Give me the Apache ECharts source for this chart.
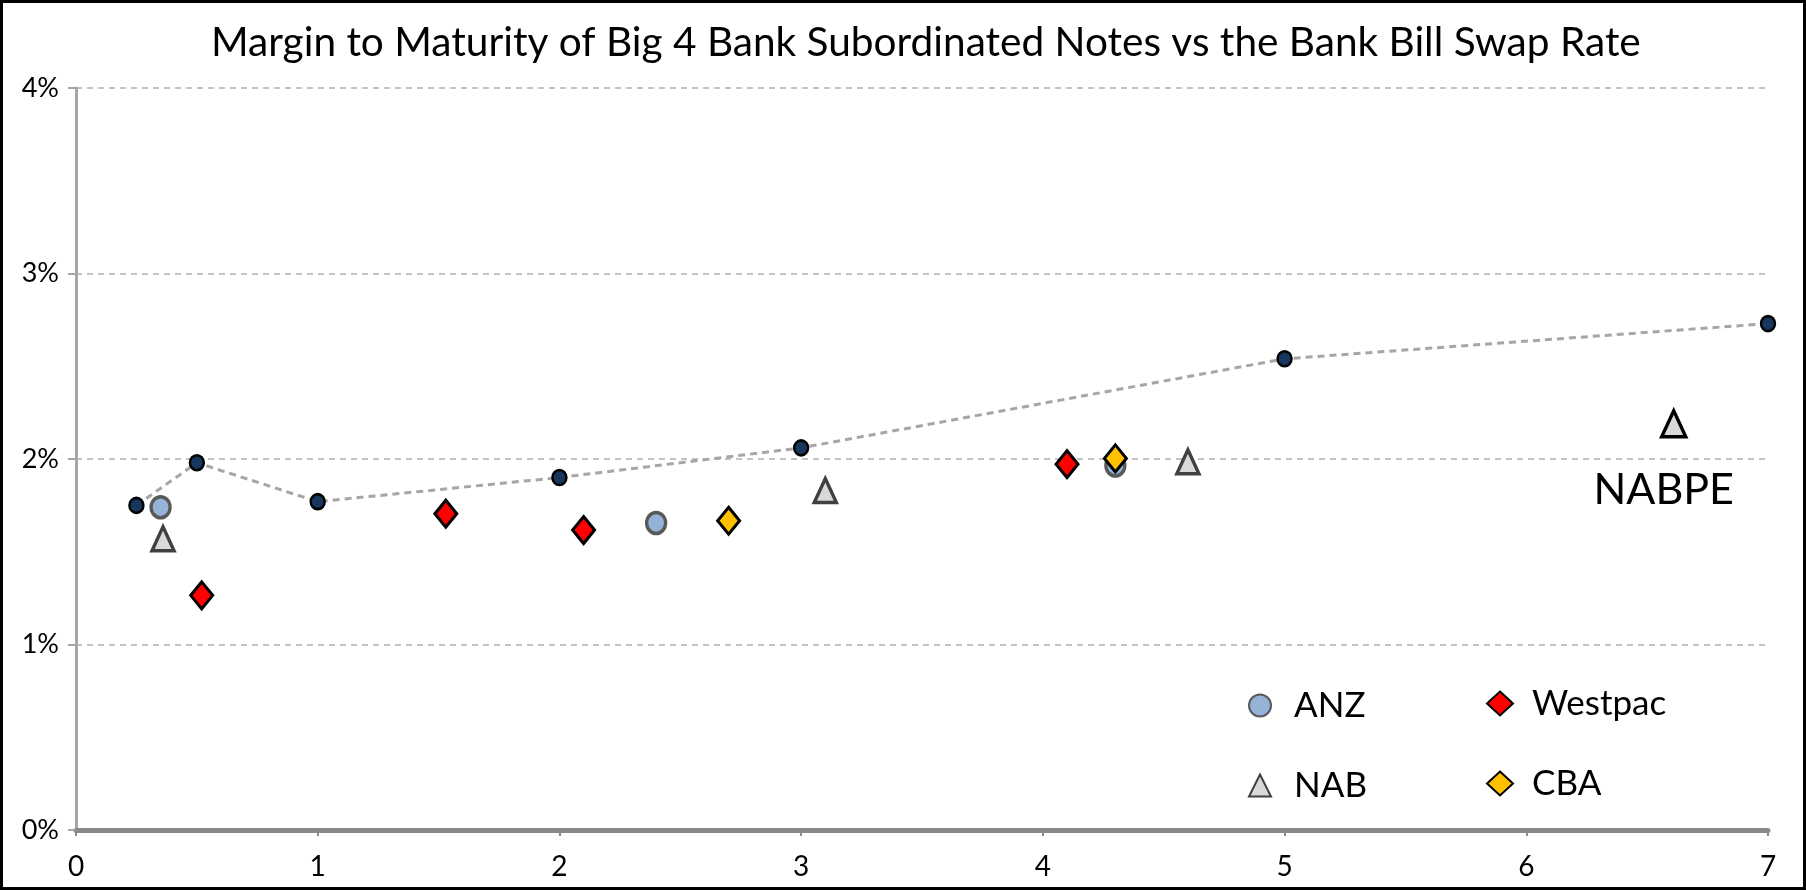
<!DOCTYPE html>
<html><head><meta charset="utf-8">
<script src="https://cdn.jsdelivr.net/npm/echarts@6/dist/echarts.min.js"></script>
<style>
html,body{margin:0;padding:0;background:#fff;}
#frame{width:1806px;height:890px;box-sizing:border-box;border:3px solid #000;}
#chart{width:1800px;height:884px;}
</style></head><body>
<div id="frame"><div id="chart"></div></div>
<script>
// Data
const titleText = 'Margin to Maturity of Big 4 Bank Subordinated Notes vs the Bank Bill Swap Rate';
const yTickLabels = ['0%','1%','2%','3%','4%'];
const bbswX = [0.25, 0.5, 1, 2, 3, 5, 7];
const bbswY = [1.75, 1.98, 1.77, 1.90, 2.06, 2.54, 2.73];
const anzX = [0.35, 2.40, 4.30];
const anzY = [1.74, 1.655, 1.965];
const westpacX = [0.52, 1.53, 2.10, 4.10];
const westpacY = [1.265, 1.705, 1.617, 1.972];
const nabX = [0.36, 3.10, 4.60];
const nabY = [1.57, 1.83, 1.985];
const nabpeX = [6.61];
const nabpeY = [2.19];
const nabpeLabel = ['NABPE'];
const cbaX = [2.70, 4.30];
const cbaY = [1.667, 2.003];

const zip = (xs, ys) => xs.map((x, i) => [x, ys[i]]);
const FONT = 'Lato';

const chart = echarts.init(document.getElementById('chart'));
chart.setOption({
  animation: false,
  title: {
    text: titleText, left: 203, top: 14,
    textStyle: {fontFamily: FONT, fontSize: 40.6, fontWeight: 'normal', color: '#000'}
  },
  grid: {left: 73, right: 35, top: 85, bottom: 57, containLabel: false},
  xAxis: {
    type: 'value', min: 0, max: 7, interval: 1,
    axisLine: {show: true, onZero: false, lineStyle: {color: '#898989', width: 5}},
    axisTick: {show: true, length: 6, lineStyle: {color: '#898989', width: 2}},
    axisLabel: {fontFamily: FONT, fontSize: 28, color: '#000', margin: 23},
    splitLine: {show: false}
  },
  yAxis: {
    type: 'value', min: 0, max: 4, interval: 1,
    axisLine: {show: true, lineStyle: {color: '#a6a6a6', width: 3}},
    axisTick: {show: true, length: 8, lineStyle: {color: '#a6a6a6', width: 2}},
    axisLabel: {fontFamily: FONT, fontSize: 27, color: '#000', margin: 17, padding: [10, 0, 0, 0],
      formatter: (v) => yTickLabels[Math.round(v)]},
    splitLine: {show: true, lineStyle: {color: '#b0b0b0', type: [6, 5], width: 1.5}}
  },
  legend: [
    {data: [{name: 'ANZ', icon: 'circle'}, {name: 'NAB', icon: 'triangle'}],
     orient: 'vertical', left: 1240, top: 680, itemWidth: 22, itemHeight: 22, itemGap: 45,
     textStyle: {fontFamily: FONT, fontSize: 35, color: '#000', padding: [0, 0, 0, 18]}},
    {data: [{name: 'Westpac', icon: 'diamond'}, {name: 'CBA', icon: 'diamond'}],
     orient: 'vertical', left: 1478, top: 678, itemWidth: 26, itemHeight: 24, itemGap: 45,
     textStyle: {fontFamily: FONT, fontSize: 35, color: '#000', padding: [0, 0, 0, 14]}}
  ],
  series: [
    {name: 'BBSW', type: 'line', data: zip(bbswX, bbswY), symbol: 'circle', symbolSize: [14, 15],
     showSymbol: true,
     lineStyle: {color: '#a6a6a6', width: 3, type: [7, 5]},
     itemStyle: {color: '#17375e', borderColor: '#000', borderWidth: 2.5}, z: 3},
    {name: 'ANZ', type: 'scatter', data: zip(anzX, anzY), symbol: 'circle', symbolSize: [19, 21],
     itemStyle: {color: '#95b3d7', borderColor: '#595959', borderWidth: 3.5, opacity: 1}, z: 4},
    {name: 'Westpac', type: 'scatter', data: zip(westpacX, westpacY), symbol: 'diamond', symbolSize: [22, 27],
     itemStyle: {color: '#ff0000', borderColor: '#000', borderWidth: 3, opacity: 1}, z: 5},
    {name: 'NAB', type: 'scatter', data: zip(nabX, nabY), symbol: 'triangle', symbolSize: [22, 24],
     itemStyle: {color: '#d9d9d9', borderColor: '#404040', borderWidth: 3.5, opacity: 1}, z: 5},
    {name: 'NABPE', type: 'scatter', data: zip(nabpeX, nabpeY), symbol: 'triangle', symbolSize: [24, 26],
     itemStyle: {color: '#d9d9d9', borderColor: '#000', borderWidth: 3.5, opacity: 1}, z: 5,
     label: {show: true, position: 'bottom', distance: 30, offset: [-10, 0],
       formatter: (p) => nabpeLabel[p.dataIndex],
       fontFamily: FONT, fontSize: 43, color: '#000'}},
    {name: 'CBA', type: 'scatter', data: zip(cbaX, cbaY), symbol: 'diamond', symbolSize: [22, 27],
     itemStyle: {color: '#ffc000', borderColor: '#000', borderWidth: 3, opacity: 1}, z: 6}
  ]
});
</script>
</body></html>
